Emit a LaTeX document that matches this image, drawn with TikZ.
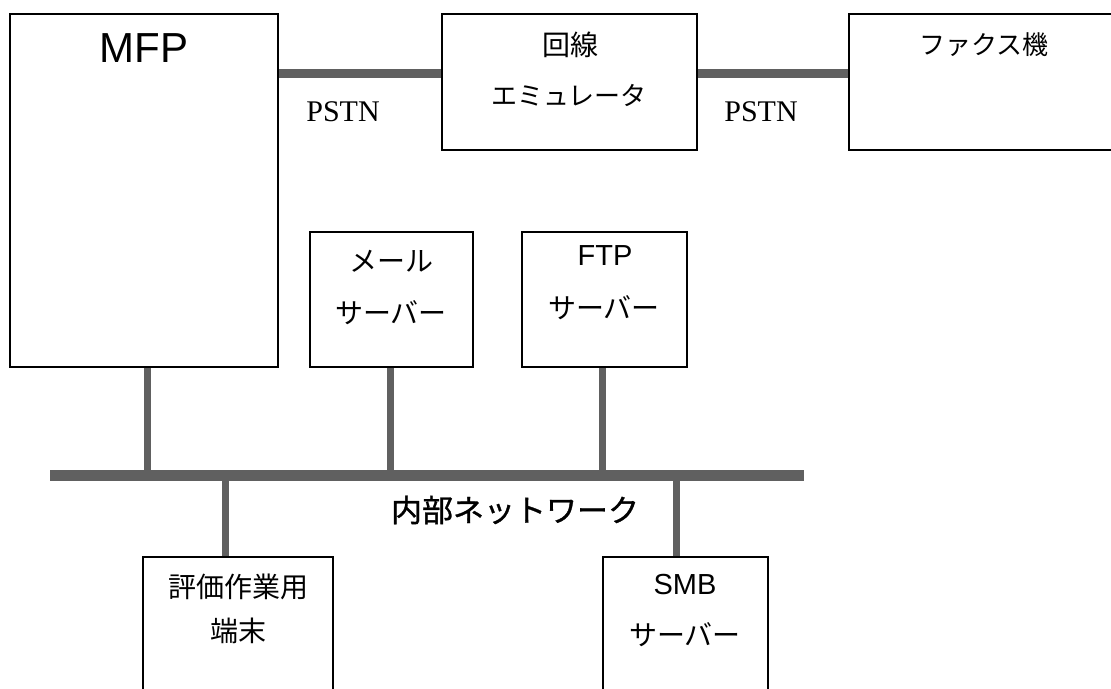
\documentclass[tikz,border=0pt]{standalone}
\usepackage{fontspec}
\setmainfont{Liberation Serif}
\setsansfont{Liberation Sans}
\newfontfamily\jp{Noto Sans CJK JP}
\newfontfamily\jpheavy{Noto Sans CJK JP}[FakeBold=1]
\definecolor{netgray}{HTML}{606060}

\tikzstyle{device} = [rectangle, draw=black, line width=1.4pt, fill=white, inner sep=0pt]
\tikzstyle{wire} = [draw=netgray, line width=3.5pt]
\tikzstyle{pstnwire} = [draw=netgray, line width=4.5pt]
\tikzstyle{busline} = [draw=netgray, line width=5.5pt]
\tikzstyle{jptext} = [inner sep=0pt, font=\jp\fontsize{14}{16}\selectfont]
\tikzstyle{entext} = [inner sep=0pt, font=\sffamily\fontsize{14.5}{17}\selectfont]

\begin{document}
\begin{tikzpicture}[x=0.5pt, y=-0.5pt]
\useasboundingbox (0,0) rectangle (1111,689);
\clip (0,0) rectangle (1111,689);

% boxes
\node (mfp) [device, minimum width=134pt, minimum height=176.5pt] at (144,190.5) {};
\node (emu) [device, minimum width=127.5pt, minimum height=68pt] at (569.5,82) {};
\node (fax) [device, minimum width=138pt, minimum height=68pt] at (987,82) {};
\node (mail) [device, minimum width=81.5pt, minimum height=67.5pt] at (391.5,299.5) {};
\node (ftp) [device, minimum width=82.5pt, minimum height=67.5pt] at (604.5,299.5) {};
\node (term) [device, minimum width=95pt, minimum height=81.5pt] at (238,638.5) {};
\node (smb) [device, minimum width=82.5pt, minimum height=81.5pt] at (685.5,638.5) {};

% labels
\node (mfplbl) [entext, font=\sffamily\fontsize{21}{24}\selectfont] at (144,48) {MFP};
\node (emulbl1) [jptext] at (570,45) {回線};
\node (emulbl2) [jptext, font=\jp\fontsize{13}{16}\selectfont] at (569,95) {エミュレータ};
\node (faxlbl) [jptext, font=\jp\fontsize{13}{16}\selectfont] at (984,45) {ファクス機};
\node (maillbl1) [jptext] at (391,261) {メール};
\node (maillbl2) [jptext] at (391,313) {サーバー};
\node (ftplbl1) [entext] at (605,256) {FTP};
\node (ftplbl2) [jptext] at (604,308) {サーバー};
\node (termlbl1) [jptext] at (238,587) {評価作業用};
\node (termlbl2) [jptext] at (238,631) {端末};
\node (smblbl1) [entext] at (685,585) {SMB};
\node (smblbl2) [jptext] at (685,635) {サーバー};

% PSTN lines
\coordinate (pstny) at (0,73.5);
\draw [pstnwire] (mfp.east |- pstny) -- (emu.west |- pstny);
\draw [pstnwire] (emu.east |- pstny) -- (fax.west |- pstny);
\node (pstn1) [inner sep=0pt, font=\rmfamily\fontsize{15}{18}\selectfont] at (343,112) {PSTN};
\node (pstn2) [inner sep=0pt, font=\rmfamily\fontsize{15}{18}\selectfont] at (761,112) {PSTN};

% internal network
\coordinate (busL) at (50,475.5);
\coordinate (busR) at (804,475.5);
\draw [wire] ([xshift=1.5pt]mfp.south) -- ([xshift=1.5pt]mfp.south |- busL);
\draw [wire] ([xshift=-0.75pt]mail.south) -- ([xshift=-0.75pt]mail.south |- busL);
\draw [wire] ([xshift=-1.25pt]ftp.south) -- ([xshift=-1.25pt]ftp.south |- busL);
\draw [wire] ([xshift=-6.5pt]term.north) -- ([xshift=-6.5pt]term.north |- busL);
\draw [wire] ([xshift=-4.75pt]smb.north) -- ([xshift=-4.75pt]smb.north |- busL);
\draw [busline] (busL) -- (busR);
\node (netlbl) [jptext, font=\jpheavy\fontsize{15.5}{18}\selectfont] at (515,510) {内部ネットワーク};
\end{tikzpicture}
\end{document}
